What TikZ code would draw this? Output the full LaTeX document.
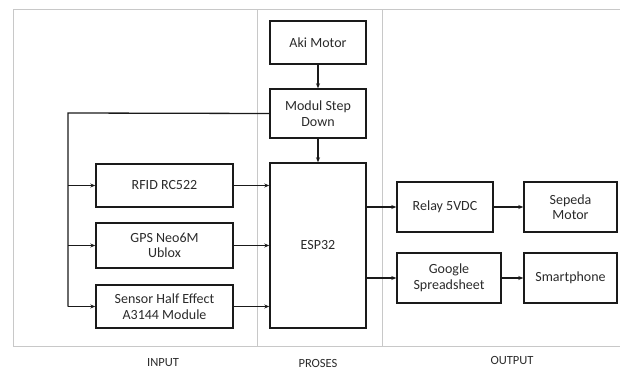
\documentclass[tikz,border=0pt]{standalone}
\usepackage{fontspec}
\setmainfont{Carlito}
\usepackage{tikz}
\usetikzlibrary{
  arrows.meta,
  positioning,
  calc
}
\definecolor{bkLine}{HTML}{1A1A1A}
\definecolor{bkText}{HTML}{2B2B2B}
\definecolor{bkFrame}{HTML}{C8C8C8}
\tikzset{
  blok/.style={
    draw=bkLine, line width=1.4pt, fill=white, align=center,
    text=bkText, font=\fontsize{14}{15.5}\selectfont, inner sep=1pt
  },
  flow/.style={-{Stealth[length=5pt,width=4pt]}, line width=1.3pt, bkLine},
  wire/.style={line width=1.3pt, bkLine},
  frame/.style={line width=1pt, bkFrame},
  zonelabel/.style={font=\fontsize{12.5}{14}\selectfont, text=bkText}
}

\begin{document}
\begin{tikzpicture}[x=1pt, y=-1pt]
  \useasboundingbox (0,0) rectangle (620,374);
  % area frame
  \draw[frame] (620,10) -- (13,10) -- (13,346) -- (620,346);
  \draw[frame] (257,10) -- (257,346);
  \draw[frame] (382,10) -- (382,346);
  \node[zonelabel] (lin) at (163,363) {INPUT};
  \node[zonelabel] (lpr) at (318,363) {PROSES};
  \node[zonelabel] (lout) at (512,360) {OUTPUT};

  % proses
  \node[blok, minimum width=96pt, minimum height=43pt] (aki) at (318,42.5) {Aki Motor};
  \node[blok, minimum width=96pt, minimum height=49pt] (modul) at (318,113.5) {Modul Step\\Down};
  \node[blok, minimum width=96pt, minimum height=165pt] (esp) at (318,245.5) {ESP32};

  % input
  \node[blok, minimum width=137pt, minimum height=43pt] (rfid) at (164.5,185.5) {RFID RC522};
  \node[blok, minimum width=137pt, minimum height=45pt] (gps) at (164.5,245.5) {GPS Neo6M\\Ublox};
  \node[blok, minimum width=137pt, minimum height=43pt] (hall) at (164.5,306.5) {Sensor Half Effect\\A3144 Module};

  % output
  \node[blok, minimum width=96pt, minimum height=50pt] (relay) at (445,207) {Relay 5VDC};
  \node[blok, minimum width=93pt, minimum height=50pt] (sepeda) at (570.5,207) {Sepeda\\Motor};
  \node[blok, minimum width=104pt, minimum height=50pt] (sheet) at (449,278) {Google\\Spreadsheet};
  \node[blok, minimum width=93pt, minimum height=50pt] (phone) at (570.5,278) {Smartphone};

  \coordinate (bus) at (68,113);

  \draw[flow] (aki) -- (modul);
  \draw[flow] (modul) -- (esp);
  \draw[wire] (modul.west) -- (bus) -- (bus |- hall.west);
  \draw[flow] (bus |- rfid.west) -- (rfid.west);
  \draw[flow] (bus |- gps.west) -- (gps.west);
  \draw[flow] (bus |- hall.west) -- (hall.west);
  \draw[flow] (rfid.east) -- (esp.west |- rfid.east);
  \draw[flow] (gps.east) -- (esp.west |- gps.east);
  \draw[flow] (hall.east) -- (esp.west |- hall.east);
  \draw[flow] (esp.east |- relay.west) -- (relay.west);
  \draw[flow] (esp.east |- sheet.west) -- (sheet.west);
  \draw[flow] (relay) -- (sepeda);
  \draw[flow] (sheet) -- (phone);
\end{tikzpicture}
\end{document}
